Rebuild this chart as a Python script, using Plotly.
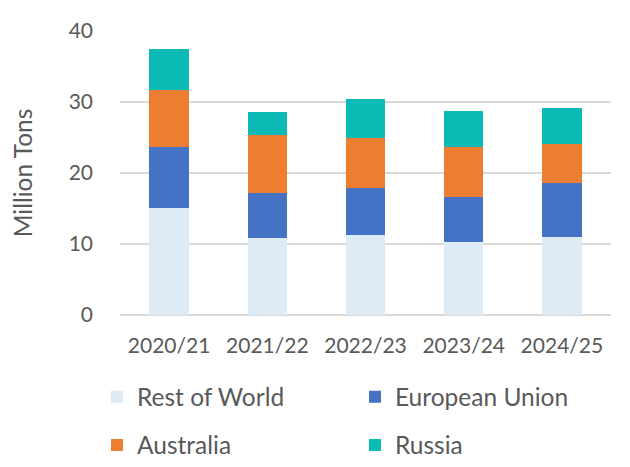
import plotly.graph_objects as go

categories = ["2020/21", "2021/22", "2022/23", "2023/24", "2024/25"]
rest_of_world = [15.1, 10.8, 11.25, 10.3, 11.05]
european_union = [8.6, 6.4, 6.65, 6.3, 7.55]
australia = [8.0, 8.2, 7.1, 7.0, 5.45]
russia = [5.7, 3.15, 5.4, 5.2, 5.05]

series = [
    ("Rest of World", rest_of_world, "#DDEBF7", "legend"),
    ("European Union", european_union, "#4472C4", "legend2"),
    ("Australia", australia, "#ED7D31", "legend3"),
    ("Russia", russia, "#0BBAB4", "legend4"),
]

fig = go.Figure()
for name, vals, color, leg in series:
    fig.add_trace(go.Bar(x=categories, y=vals, name=name, legend=leg,
                         marker=dict(color=color, line=dict(width=0))))

W, H = 622, 459
font = "Lato, 'Open Sans', sans-serif"
grey = "#595959"
legend_common = dict(orientation="h", xref="container", yref="container",
                     xanchor="left", yanchor="middle",
                     font=dict(size=24.5, color=grey, family=font))
col1, col2 = 89 / W, 347 / W
row1, row2 = 1 - 388.7 / H, 1 - 437 / H
fig.update_layout(
    barmode="stack",
    bargap=0.6,
    width=W, height=H,
    margin=dict(l=112, r=19, t=23, b=152, autoexpand=False),
    plot_bgcolor="white", paper_bgcolor="white",
    font=dict(family=font, size=21, color=grey),
    xaxis=dict(showgrid=False, showline=False, ticks="", tickfont=dict(size=21, color=grey),
               ticklabelstandoff=16),
    yaxis=dict(range=[0, 40], dtick=10, showgrid=True, gridcolor="#D9D9D9", gridwidth=1.5,
               zeroline=True, zerolinecolor="#D9D9D9", zerolinewidth=1.5,
               ticks="", tickfont=dict(size=21, color=grey), ticklabelstandoff=26,
               title=dict(text="Million Tons", font=dict(size=24.5, color=grey), standoff=32)),
    legend=dict(legend_common, x=col1, y=row1),
    legend2=dict(legend_common, x=col2, y=row1),
    legend3=dict(legend_common, x=col1, y=row2),
    legend4=dict(legend_common, x=col2, y=row2),
    showlegend=True,
)

fig.write_html("out.html")
